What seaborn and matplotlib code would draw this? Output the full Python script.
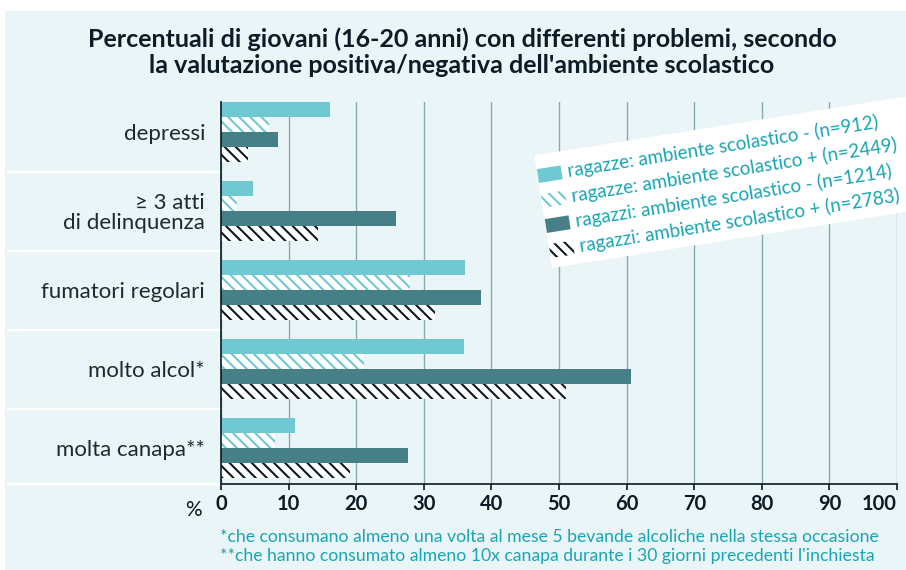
import matplotlib
matplotlib.use("Agg")
import matplotlib.pyplot as plt
from matplotlib import font_manager
from matplotlib.patches import Rectangle
from matplotlib.transforms import Affine2D, blended_transform_factory
import numpy as np
import pandas as pd
import seaborn as sns

CATEGORIES = ["depressi", "\u2265 3 atti\ndi delinquenza", "fumatori regolari",
              "molto alcol*", "molta canapa**"]
SERIES = [
    "ragazze: ambiente scolastico - (n=912)",
    "ragazze: ambiente scolastico + (n=2449)",
    "ragazzi: ambiente scolastico - (n=1214)",
    "ragazzi: ambiente scolastico + (n=2783)",
]
girls_neg = [16.1, 4.7, 36.1, 35.9, 11.0]
girls_pos = [7.1, 2.4, 27.9, 21.2, 8.0]
boys_neg = [8.5, 25.9, 38.5, 60.6, 27.6]
boys_pos = [4.0, 14.3, 31.6, 51.0, 19.1]
XTICKS = list(range(0, 101, 10))

TITLE_1 = "Percentuali di giovani (16-20 anni) con differenti problemi, secondo"
TITLE_2 = "la valutazione positiva/negativa dell'ambiente scolastico"
NOTE_1 = "*che consumano almeno una volta al mese 5 bevande alcoliche nella stessa occasione"
NOTE_2 = "**che hanno consumato almeno 10x canapa durante i 30 giorni precedenti l'inchiesta"

BG = "#eaf5f7"
LIGHT = "#70c8d3"
DARK = "#467f86"
BLACK = "#0b1a24"
TEAL = "#1aa5b4"
INK = "#1c2a34"
GRID = "#86aab3"

names = {f.name for f in font_manager.fontManager.ttflist}
NARROW = "Liberation Sans Narrow" if "Liberation Sans Narrow" in names else "Lato"

plt.rcParams["hatch.linewidth"] = 1.5

# fill, stripe colour, hatch
STYLES = [
    (LIGHT, LIGHT, None),
    ("white", LIGHT, "\\\\\\"),
    (DARK, DARK, None),
    ("white", BLACK, "\\\\\\"),
]

rows = []
for s, vals in zip(SERIES, [girls_neg, girls_pos, boys_neg, boys_pos]):
    for c, v in zip(CATEGORIES, vals):
        rows.append({"categoria": c, "serie": s, "valore": v})
df = pd.DataFrame(rows)

W, H = 906, 570
fig = plt.figure(figsize=(W / 100, H / 100), dpi=100, facecolor="white")
fig.add_artist(Rectangle((5 / W, 0), 1, 1 - 11 / H, transform=fig.transFigure,
                         facecolor=BG, edgecolor="none", zorder=-10))

ax = fig.add_axes([221 / W, 86 / H, 676 / W, 382 / H])
ax.set_facecolor(BG)

sns.barplot(data=df, x="valore", y="categoria", hue="serie", hue_order=SERIES,
            order=CATEGORIES, palette=[LIGHT, LIGHT, DARK, BLACK], width=0.76,
            saturation=1, errorbar=None, legend=False, orient="h", ax=ax)

for cont, (fc, ec, hatch) in zip(ax.containers, STYLES):
    for bar in cont:
        bar.set_facecolor(fc)
        bar.set_edgecolor(ec)
        bar.set_linewidth(0)
        if hatch:
            bar.set_hatch(hatch)

ax.set_xlim(0, 100)
ax.set_ylim(4.455, -0.38)
ax.set_xticks(XTICKS)
ax.set(xlabel="", ylabel="")
ax.grid(axis="x", color=GRID, linewidth=1.0)
ax.grid(axis="y", visible=False)
ax.set_axisbelow(True)
for side in ["top", "right"]:
    ax.spines[side].set_visible(False)
for side in ["left", "bottom"]:
    ax.spines[side].set_color(BLACK)
    ax.spines[side].set_linewidth(1.2)

ax.tick_params(axis="y", length=0, pad=11.5)
ax.tick_params(axis="x", length=4.5, width=1.2, color=BLACK, pad=3)
for lab in ax.get_yticklabels():
    lab.set_fontfamily(NARROW)
    lab.set_fontsize(16)
    lab.set_color(INK)
    lab.set_linespacing(1.0)
xlabs = ax.get_xticklabels()
for lab in xlabs:
    lab.set_fontfamily(NARROW)
    lab.set_fontsize(14.5)
    lab.set_fontweight("bold")
    lab.set_color(BLACK)
xlabs[-1].set_horizontalalignment("right")

# white separators between categories on the label side
sep = blended_transform_factory(ax.transAxes, ax.transData)
for yb in [0.5, 1.5, 2.5, 3.5, 4.455]:
    ax.plot([-213 / 676, 0], [yb, yb], transform=sep, color="white",
            lw=1.6, clip_on=False, zorder=1)

fig.text(193 / W, 1 - 516 / H, "%", ha="center", va="baseline",
         fontfamily=NARROW, fontsize=15, color=BLACK)

fig.text(462 / W, 1 - 47 / H, TITLE_1, ha="center", va="baseline",
         fontfamily="Lato", fontsize=18, fontweight="bold", color="#0d1b26")
fig.text(462 / W, 1 - 73 / H, TITLE_2, ha="center", va="baseline",
         fontfamily="Lato", fontsize=18, fontweight="bold", color="#0d1b26")

fig.text(220 / W, 1 - 542 / H, NOTE_1, ha="left", va="baseline",
         fontfamily="Lato", fontsize=12.7, color=TEAL)
fig.text(220 / W, 1 - 561 / H, NOTE_2, ha="left", va="baseline",
         fontfamily="Lato", fontsize=12.7, color=TEAL)

# tilted legend card
theta = 9
T = Affine2D().rotate_deg(theta).translate(552, 302).scale(1 / W, 1 / H) + fig.transFigure
fig.add_artist(Rectangle((0, 0), 430, 114, transform=T, facecolor="white",
                         edgecolor="none", zorder=5))
for lab, v, (fc, ec, hatch) in zip(SERIES, [93, 67.7, 42.4, 17], STYLES):
    fig.add_artist(Rectangle((0.5, v - 7), 24, 14, transform=T, facecolor=fc,
                             edgecolor=ec, hatch=hatch, lw=0, zorder=6))
    fig.text(31, v, lab, transform=T, rotation=theta, rotation_mode="anchor",
             ha="left", va="center", fontfamily=NARROW, fontsize=13.5,
             color=TEAL, zorder=7)

fig.savefig("out.png", dpi=100, facecolor="white")
